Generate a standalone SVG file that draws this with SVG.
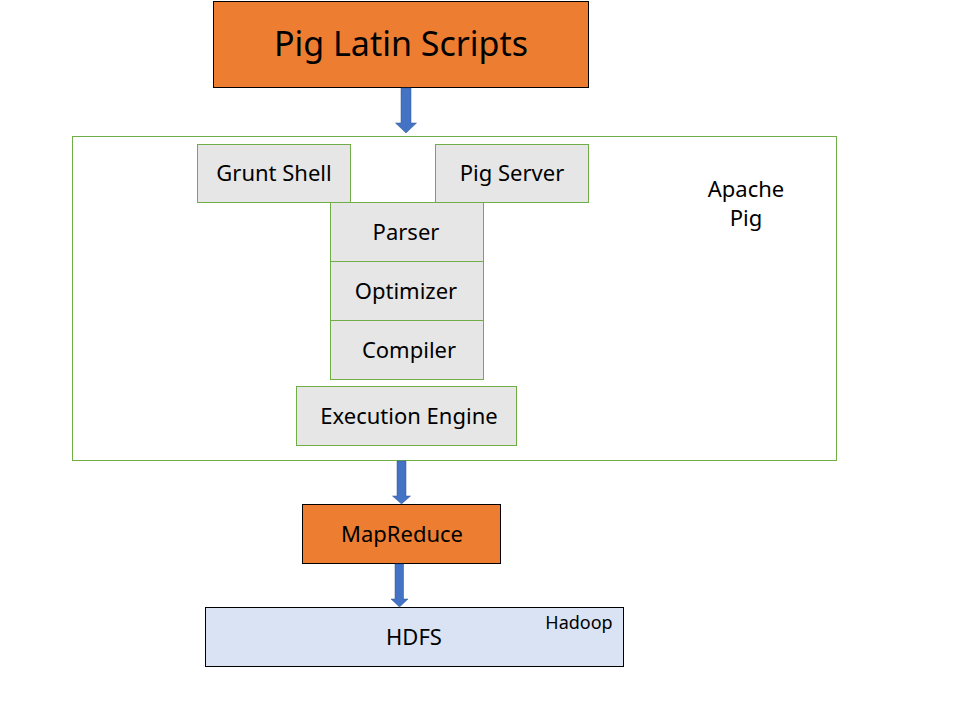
<svg xmlns="http://www.w3.org/2000/svg" width="977" height="712" viewBox="0 0 977 712">
<style>
text{font-family:"Noto Sans","Open Sans","Liberation Sans",sans-serif;fill:#000;text-anchor:middle;dominant-baseline:central}
.orange{fill:#ED7D31;stroke:#000;stroke-width:1}
.gray{fill:#E7E6E6;stroke:#70AD47;stroke-width:1}
.lbl{font-size:22px}
.arrow{fill:#4472C4;stroke:#2F5597;stroke-width:0.5}
</style>
<rect width="977" height="712" fill="#fff"/>
<g id="apache-pig">
<rect x="72.5" y="136.5" width="764" height="324" fill="none" stroke="#70AD47" stroke-width="1"/>
<text x="746" y="188" class="lbl">Apache</text>
<text x="746" y="217" class="lbl">Pig</text>
</g>
<g id="pig-latin-scripts">
<rect x="213.5" y="1.5" width="375" height="86" class="orange"/>
<text x="401" y="43" style="font-size:34px">Pig Latin Scripts</text>
</g>
<g id="grunt-shell">
<rect x="197.5" y="144.5" width="153" height="58" class="gray"/>
<text x="274" y="172" class="lbl">Grunt Shell</text>
</g>
<g id="pig-server">
<rect x="435.5" y="144.5" width="153" height="58" class="gray"/>
<text x="512" y="172" class="lbl">Pig Server</text>
</g>
<g id="parser">
<rect x="330.5" y="202.5" width="153" height="59" class="gray"/>
<text x="406" y="231" class="lbl">Parser</text>
</g>
<g id="optimizer">
<rect x="330.5" y="261.5" width="153" height="59" class="gray"/>
<text x="406" y="290" class="lbl">Optimizer</text>
</g>
<g id="compiler">
<rect x="330.5" y="320.5" width="153" height="59" class="gray"/>
<text x="409" y="349" class="lbl">Compiler</text>
</g>
<g id="execution-engine">
<rect x="296.5" y="386.5" width="220" height="59" class="gray"/>
<text x="409" y="415" class="lbl">Execution Engine</text>
</g>
<g id="mapreduce">
<rect x="302.5" y="504.5" width="198" height="59" class="orange"/>
<text x="402" y="533" class="lbl">MapReduce</text>
</g>
<g id="hdfs">
<rect x="205.5" y="607.5" width="418" height="59" fill="#DAE3F3" stroke="#000" stroke-width="1"/>
<text x="414" y="636" class="lbl">HDFS</text>
<text x="579" y="622" style="font-size:18px">Hadoop</text>
</g>
<g id="connectors">
<path class="arrow" d="M401 88 H411 V123 H416.5 L406 133 L395.5 123 H401 Z"/>
<path class="arrow" d="M397 461 H406 V496 H410.5 L401.5 504 L392.5 496 H397 Z"/>
<path class="arrow" d="M395 564 H403.5 V599 H408 L399.5 607 L391 599 H395 Z"/>
</g>
</svg>
